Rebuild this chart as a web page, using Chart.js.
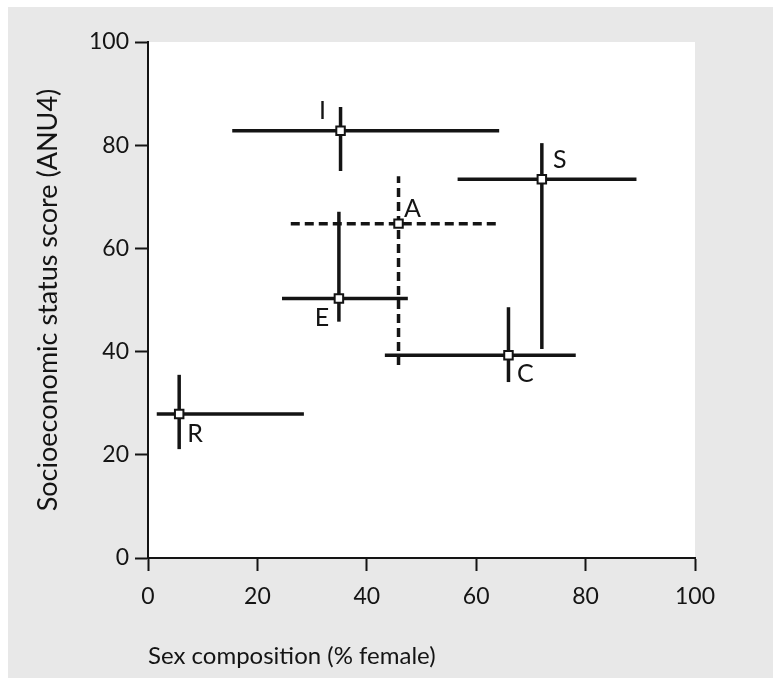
<!DOCTYPE html>
<html>
<head>
<meta charset="utf-8">
<script src="https://cdn.jsdelivr.net/npm/chart.js@4.4.0/dist/chart.umd.min.js"></script>
<style>
  html, body { margin: 0; padding: 0; background: #fff; }
  #panel { position: absolute; left: 8px; top: 7px; width: 765px; height: 671px; background: #e8e8e8; }
  #wrap { position: absolute; left: 0; top: 0; width: 779px; height: 684px; }
</style>
</head>
<body>
<div id="panel"></div>
<div id="wrap"><canvas id="chart"></canvas></div>
<script>
// data: occupational groups, mean and range
const groups = ['I', 'S', 'A', 'E', 'C', 'R'];
const xMean = [35.2, 72.0, 45.8, 34.9, 65.9, 5.7];
const yMean = [82.8, 73.4, 64.8, 50.3, 39.3, 27.9];
const xLow  = [15.4, 56.6, 26.1, 24.5, 43.3, 1.6];
const xHigh = [64.2, 89.3, 63.6, 47.5, 78.2, 28.5];
const yLow  = [75.0, 40.5, 37.4, 45.8, 34.1, 21.1];
const yHigh = [87.4, 80.4, 74.0, 67.1, 48.6, 35.5];
const xTicks = [0, 20, 40, 60, 80, 100];
const yTicks = [0, 20, 40, 60, 80, 100];

const ink = '#141414';
const fontFamily = "Lato, 'Open Sans', sans-serif";

function buildDatasets() {
    const sets = [{
        label: 'mean',
        data: groups.map((g, i) => ({ x: xMean[i], y: yMean[i] })),
        pointStyle: 'rect',
        pointRadius: 6,
        pointBorderWidth: 2,
        pointBackgroundColor: '#fff',
        pointBorderColor: ink,
        showLine: false,
        order: 0
    }];
    groups.forEach((g, i) => {
        const dash = g === 'A' ? [9, 5] : [];
        sets.push({
            label: g + ' x',
            data: [{ x: xLow[i], y: yMean[i] }, { x: xHigh[i], y: yMean[i] }],
            showLine: true, borderColor: ink, borderWidth: 3.5, borderDash: dash,
            pointRadius: 0, order: 1
        });
        sets.push({
            label: g + ' y',
            data: [{ x: xMean[i], y: yLow[i] }, { x: xMean[i], y: yHigh[i] }],
            showLine: true, borderColor: ink, borderWidth: 3.5, borderDash: dash,
            pointRadius: 0, order: 1
        });
    });
    return sets;
}

// white plot area
const plotBackground = {
    id: 'plotBackground',
    beforeDraw(chart) {
        const { ctx, chartArea: a } = chart;
        ctx.save();
        ctx.fillStyle = '#fff';
        ctx.fillRect(a.left, a.top, a.right - a.left, a.bottom - a.top);
        ctx.restore();
    }
};

// letter next to each point
const pointLabels = {
    id: 'pointLabels',
    afterDatasetsDraw(chart) {
        const offsets = {
            I: [-18, -20], S: [18, -19], A: [14, -15],
            E: [-17, 19], C: [17, 19], R: [16, 20]
        };
        const { ctx, scales } = chart;
        ctx.save();
        ctx.fillStyle = ink;
        ctx.font = '25px ' + fontFamily;
        ctx.textAlign = 'center';
        ctx.textBaseline = 'middle';
        groups.forEach((g, i) => {
            const px = scales.x.getPixelForValue(xMean[i]) + offsets[g][0];
            const py = scales.y.getPixelForValue(yMean[i]) + offsets[g][1];
            ctx.fillText(g, px, py);
        });
        ctx.restore();
    }
};

function axisOptions(ticks, pad) {
    return {
        type: 'linear',
        min: 0,
        max: 100,
        afterBuildTicks: s => { s.ticks = ticks.map(v => ({ value: v })); },
        grid: { drawOnChartArea: false, drawTicks: true, tickLength: 13, tickColor: ink, tickWidth: 2 },
        border: { display: true, color: ink, width: 2 },
        ticks: { color: ink, font: { family: fontFamily, size: 23 }, padding: pad, maxRotation: 0 }
    };
}

function createChart() {
    const x = axisOptions(xTicks, 12);
    x.title = {
        display: true, text: 'Sex composition (% female)', align: 'start', color: ink,
        font: { family: fontFamily, size: 24 }, padding: { top: 0, bottom: 13 }
    };
    x.afterFit = s => { s.height = 126; };

    const y = axisOptions(yTicks, 6);
    y.title = {
        display: true, text: 'Socioeconomic status score (ANU4)', color: ink,
        font: { family: fontFamily, size: 27 }, padding: { top: 32, bottom: 0 }
    };
    y.afterFit = s => { s.width = 148; };

    new Chart(document.getElementById('chart'), {
        type: 'scatter',
        data: { datasets: buildDatasets() },
        options: {
            responsive: true,
            maintainAspectRatio: false,
            animation: false,
            layout: { padding: { top: 42, right: 84, bottom: 0, left: 0 } },
            plugins: { legend: { display: false }, tooltip: { enabled: false } },
            scales: { x, y }
        },
        plugins: [plotBackground, pointLabels]
    });
}

createChart();
</script>
</body>
</html>
